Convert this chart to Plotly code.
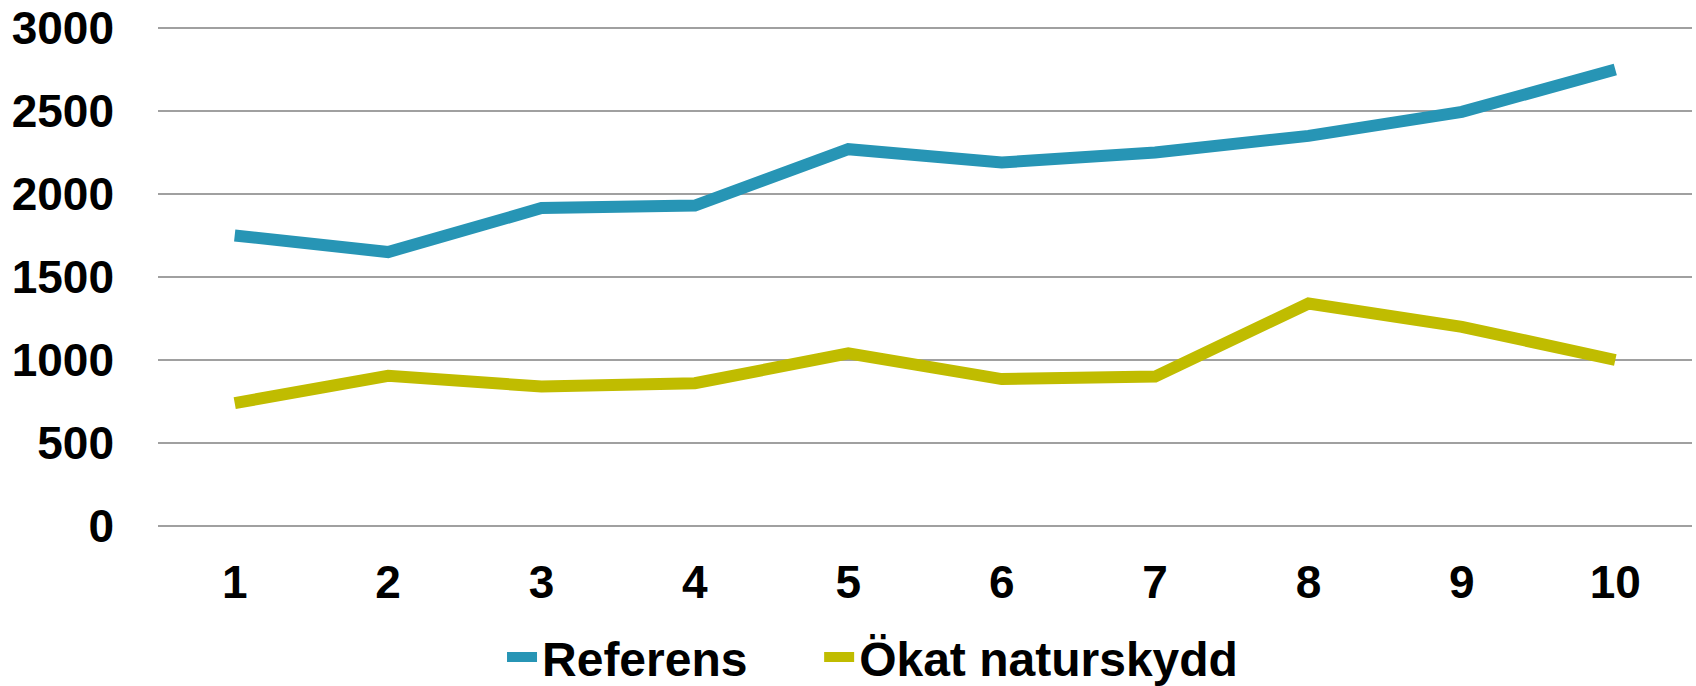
import plotly.graph_objects as go

categories = [1, 2, 3, 4, 5, 6, 7, 8, 9, 10]
referens = [1750, 1650, 1915, 1930, 2270, 2190, 2250, 2350, 2495, 2750]
okat_naturskydd = [740, 905, 840, 860, 1040, 885, 900, 1340, 1200, 1000]
y_ticks = [0, 500, 1000, 1500, 2000, 2500, 3000]

BLUE = "#2795B5"
YELLOW = "#C0BC00"
FONT = dict(family="Liberation Sans, Arial, sans-serif", size=46, color="black")
LEGEND_FONT = dict(family="Liberation Sans, Arial, sans-serif", size=48, color="black")
NBSP = "\u00a0"

fig = go.Figure()
fig.add_trace(go.Scatter(x=categories, y=referens, mode="lines", name="<b>Referens</b>" + NBSP * 5,
                         line=dict(color=BLUE, width=12)))
fig.add_trace(go.Scatter(x=categories, y=okat_naturskydd, mode="lines", name="<b>Ökat naturskydd</b>",
                         line=dict(color=YELLOW, width=12)))

fig.update_layout(
    width=1696, height=686,
    margin=dict(l=158, r=4, t=25, b=160, autoexpand=False),
    paper_bgcolor="white", plot_bgcolor="white",
    font=FONT,
    legend=dict(orientation="h", yref="paper", xref="container",
                x=0.296, xanchor="left", y=-0.262, yanchor="middle",
                font=LEGEND_FONT, bgcolor="rgba(0,0,0,0)", borderwidth=0,
                tracegroupgap=0, itemwidth=30),
    showlegend=True,
)
fig.update_xaxes(range=[0.5, 10.5], tickvals=categories, ticktext=[f"<b>{c}</b>" for c in categories],
                 showgrid=False, zeroline=False, showline=False, ticks="", ticklabelstandoff=25,
                 tickfont=FONT)
fig.update_yaxes(range=[0, 3018], tickvals=y_ticks, ticktext=[f"<b>{v}</b>" for v in y_ticks],
                 showgrid=True, gridcolor="#A0A0A0", gridwidth=1.5,
                 zeroline=True, zerolinecolor="#A0A0A0", zerolinewidth=1.5,
                 showline=False, ticks="", ticklabelstandoff=43, tickfont=FONT)

fig.write_html("out.html", config={"displayModeBar": False},
               post_script="document.body.style.margin='0';")
